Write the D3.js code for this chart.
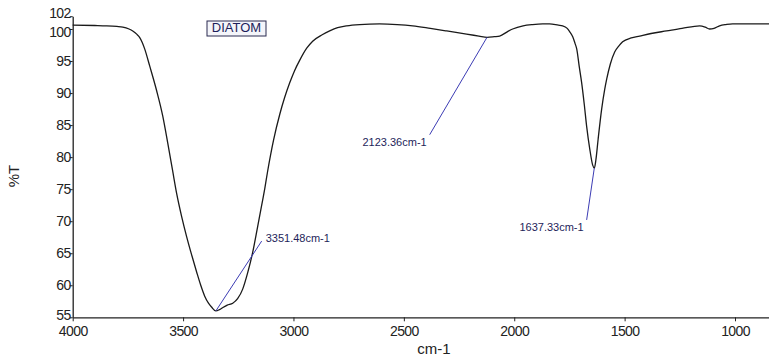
<!DOCTYPE html>
<html><head><meta charset="utf-8">
<script src="https://cdn.jsdelivr.net/npm/d3@7"></script>
<style>body{margin:0;background:#fff}svg{display:block}</style>
</head><body>
<script>
const wavenumbers = [4000,3900,3846,3800,3773,3745,3728,3710,3697,3685,3674,3651,3620,3592,3570,3547,3529,3507,3484,3460,3438,3420,3402,3385,3371,3352,3335,3321,3300,3275,3253,3230,3207,3185,3162,3145,3130,3117,3090,3062,3040,3017,2995,2972,2940,2913,2870,2836,2800,2759,2700,2610,2530,2460,2380,2306,2216,2160,2123,2090,2066,2030,2007,1960,1917,1871,1840,1800,1781,1760,1749,1735,1725,1717,1705,1695,1683,1672,1658,1645,1637,1630,1620,1604,1590,1581,1565,1545,1525,1509,1470,1432,1380,1310,1240,1160,1135,1115,1095,1070,1040,1011,950,846];
const transmittance = [100.6,100.55,100.5,100.4,100.3,100.0,99.7,99.2,98.7,97.9,96.9,94.2,90.4,86.4,82.3,77.8,74.3,70.8,67.6,64.6,62.0,60.0,58.3,57.2,56.6,56.0,56.2,56.5,56.9,57.2,57.9,59.4,62.0,65.1,69.2,72.3,75.1,77.8,82.7,86.7,89.3,91.6,93.5,95.1,97.0,98.1,99.1,99.7,100.2,100.5,100.7,100.8,100.7,100.5,100.1,99.7,99.2,98.9,98.7,98.8,98.9,99.6,100.0,100.5,100.7,100.8,100.8,100.6,100.5,100.1,99.6,98.8,97.8,96.9,94.0,91.7,88.3,84.8,81.3,78.8,78.3,79.6,82.8,87.5,90.6,92.2,94.5,96.4,97.4,98.0,98.6,98.9,99.3,99.7,100.1,100.5,100.3,100.0,100.1,100.5,100.7,100.8,100.8,100.8];
const xTicks = [4000,3500,3000,2500,2000,1500,1000];
const yTicks = [55,60,65,70,75,80,85,90,95,100,102];
const peakWavenumbers = [3351.48, 2123.36, 1637.33];
const peakLabels = ["3351.48cm-1", "2123.36cm-1", "1637.33cm-1"];
const peakTransmittance = [56.0, 98.7, 78.3];
const leaderEndWavenumbers = [3144, 2383, 1672];
const leaderEndTransmittance = [66.9, 83.5, 70.2];
const sampleName = "DIATOM";
const xTitle = "cm-1";
const yTitle = "%T";

const W = 769, H = 356;
const svg = d3.select("body").append("svg").attr("width", W).attr("height", H);
const x = d3.scaleLinear().domain([4000, 846]).range([72.7, 769]);
const y = d3.scaleLinear().domain([55, 102]).range([317.3, 16.2]);

const font = "Arial, 'Liberation Sans', sans-serif";

// axes
const xAxis = svg.append("g").attr("transform", `translate(0,${y(55)})`)
  .call(d3.axisBottom(x).tickValues(xTicks).tickSize(4).tickSizeOuter(0).tickFormat(d3.format("d")));
xAxis.selectAll("text").attr("font-family", font).attr("font-size", 14).attr("fill", "#222").attr("dy", "0.71em").attr("y", 9).attr("letter-spacing", "-0.6");
const yAxis = svg.append("g").attr("transform", `translate(${x(4000)},0)`)
  .call(d3.axisLeft(y).tickValues(yTicks).tickSize(3).tickSizeOuter(0).tickFormat(d3.format("d")));
yAxis.selectAll("text").attr("font-family", font).attr("font-size", 14).attr("fill", "#222").attr("x", -2).attr("letter-spacing", "-0.6");
yAxis.selectAll(".tick").filter(d => d === 102).select("text").attr("dy", "0.1em");
yAxis.selectAll(".tick").filter(d => d === 100).select("text").attr("dy", "0.55em");
yAxis.selectAll(".tick").filter(d => d === 55).select("text").attr("dy", "0.15em");
svg.selectAll(".domain").attr("stroke", "#222").attr("stroke-width", 1.3);
svg.selectAll(".tick line").attr("stroke", "#222");

// titles
svg.append("text").attr("x", 434).attr("y", 354).attr("text-anchor", "middle")
  .attr("font-family", font).attr("font-size", 15).attr("fill", "#222").text(xTitle);
svg.append("text").attr("transform", "translate(19,176) rotate(-90)").attr("text-anchor", "middle")
  .attr("font-family", font).attr("font-size", 15).attr("fill", "#222").text(yTitle);

// spectrum
const pts = wavenumbers.map((w, i) => [w, transmittance[i]]);
svg.append("path").datum(pts)
  .attr("fill", "none").attr("stroke", "#1a1a1a").attr("stroke-width", 1.3)
  .attr("d", d3.line().x(d => x(d[0])).y(d => y(d[1])).curve(d3.curveMonotoneX));

// annotations
peakWavenumbers.forEach((w, i) => {
  const x0 = x(w), y0 = y(peakTransmittance[i]);
  const x1 = x(leaderEndWavenumbers[i]), y1 = y(leaderEndTransmittance[i]);
  svg.append("line").attr("x1", x0).attr("y1", y0).attr("x2", x1).attr("y2", y1)
    .attr("stroke", "#3c3cb4").attr("stroke-width", 1);
  const t = svg.append("text").attr("font-family", font).attr("font-size", 11)
    .attr("fill", "#1e1e5a").attr("dominant-baseline", "middle").text(peakLabels[i]);
  if (i === 0) t.attr("x", x1 + 4).attr("y", y1 - 2);
  else t.attr("x", x1 - 3).attr("y", y1 + 8).attr("text-anchor", "end");
});

// sample label box
const bx = 207, by = 21;
svg.append("rect").attr("x", bx).attr("y", by).attr("width", 59).attr("height", 15)
  .attr("fill", "#f4f5fa").attr("stroke", "#2a2a50").attr("stroke-width", 1);
svg.append("text").attr("x", bx + 29.5).attr("y", by + 8).attr("text-anchor", "middle")
  .attr("dominant-baseline", "middle").attr("font-family", font).attr("font-size", 13).attr("fill", "#1e1e5a").text(sampleName);
</script>
</body></html>
